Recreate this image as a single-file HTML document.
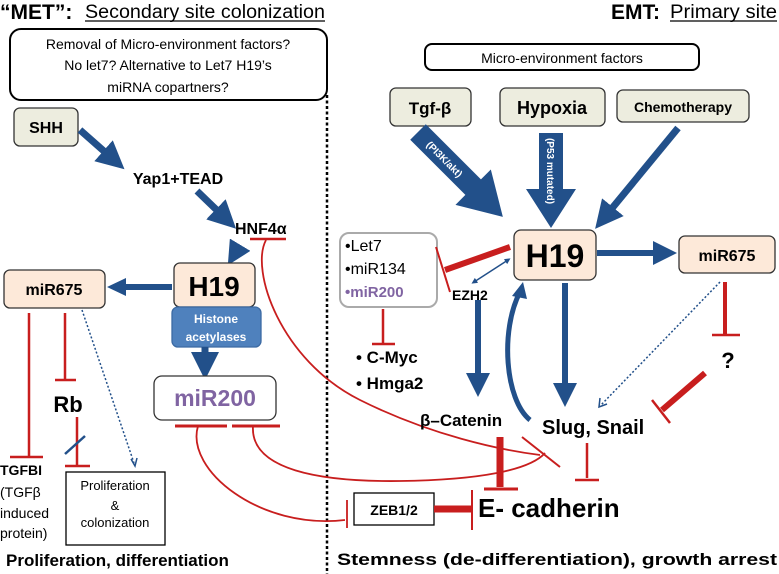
<!DOCTYPE html>
<html><head><meta charset="utf-8"><style>
body{margin:0;background:#fff}
svg{display:block;font-family:"Liberation Sans",Arial,sans-serif}
.b{font-weight:bold}
</style></head><body>
<svg width="779" height="574" viewBox="0 0 779 574" xmlns="http://www.w3.org/2000/svg">
<defs>
<marker id="ah" markerWidth="4" markerHeight="4" refX="2" refY="2" orient="auto" markerUnits="strokeWidth"><path d="M0,0 L4,2 L0,4 z" fill="#22508a"/></marker>
<marker id="ahd" markerWidth="4" markerHeight="4" refX="2" refY="2" orient="auto-start-reverse" markerUnits="strokeWidth"><path d="M0,0 L4,2 L0,4 z" fill="#22508a"/></marker>
</defs>
<!-- titles -->
<text x="0" y="19" class="b" font-size="21">“MET”:</text>
<text x="85" y="18" font-size="19" textLength="240" lengthAdjust="spacingAndGlyphs">Secondary site colonization</text>
<line x1="85" y1="21" x2="325" y2="21" stroke="#000" stroke-width="1.3"/>
<text x="611" y="19" class="b" font-size="21">EMT:</text>
<text x="670" y="18" font-size="19" textLength="107" lengthAdjust="spacingAndGlyphs">Primary site</text>
<line x1="670" y1="21" x2="777" y2="21" stroke="#000" stroke-width="1.3"/>
<!-- dotted divider -->
<line x1="327" y1="95" x2="327" y2="574" stroke="#000" stroke-width="2.5" stroke-dasharray="3,2.5"/>
<!-- left top box -->
<rect x="10" y="29" width="317" height="71" rx="11" fill="#fff" stroke="#000" stroke-width="2"/>
<text x="168" y="49" font-size="14" text-anchor="middle">Removal of Micro-environment  factors?</text>
<text x="168" y="70" font-size="14" text-anchor="middle">No let7? Alternative  to Let7 H19’s</text>
<text x="168" y="92" font-size="14" text-anchor="middle">miRNA copartners?</text>
<!-- SHH -->
<rect x="14" y="108" width="64" height="38" rx="6" fill="#ededdf" stroke="#333" stroke-width="1.3"/>
<text x="46" y="133" class="b" font-size="16" text-anchor="middle">SHH</text>
<line x1="80" y1="130" x2="114" y2="160" stroke="#22508a" stroke-width="7" marker-end="url(#ah)"/>
<text x="178" y="184" class="b" font-size="16" text-anchor="middle">Yap1+TEAD</text>
<line x1="197" y1="191" x2="226" y2="219" stroke="#22508a" stroke-width="7" marker-end="url(#ah)"/>
<text x="235" y="234" class="b" font-size="16">HNF4α</text>
<line x1="250" y1="239" x2="286" y2="239" stroke="#c81e1e" stroke-width="2.5"/>
<path d="M266,240 C250,270 280,360 360,400 C430,435 500,450 540,455" fill="none" stroke="#c81e1e" stroke-width="1.8"/>
<line x1="240" y1="245" x2="234" y2="255" stroke="#22508a" stroke-width="6" marker-end="url(#ah)"/>
<!-- H19 left -->
<rect x="174" y="263" width="81" height="44" rx="6" fill="#fde9d9" stroke="#333" stroke-width="1.3"/>
<text x="214" y="296" class="b" font-size="28" text-anchor="middle">H19</text>
<rect x="172" y="307" width="89" height="40" rx="6" fill="#4f81bd" stroke="#3c6aa3" stroke-width="1.3"/>
<text x="216" y="323" class="b" font-size="12" fill="#fff" text-anchor="middle">Histone</text>
<text x="216" y="341" class="b" font-size="12" fill="#fff" text-anchor="middle">acetylases</text>
<line x1="205" y1="347" x2="205" y2="366" stroke="#22508a" stroke-width="7" marker-end="url(#ah)"/>
<rect x="154" y="376" width="122" height="44" rx="8" fill="#fff" stroke="#333" stroke-width="1.3"/>
<text x="215" y="406" class="b" font-size="23" fill="#8064a2" text-anchor="middle">miR200</text>
<line x1="175" y1="426" x2="227" y2="426" stroke="#c81e1e" stroke-width="3"/>
<line x1="232" y1="426" x2="280" y2="426" stroke="#c81e1e" stroke-width="3"/>
<path d="M198,426 C185,470 260,530 345,520" fill="none" stroke="#c81e1e" stroke-width="1.8"/>
<line x1="347" y1="500" x2="347" y2="528" stroke="#c81e1e" stroke-width="1.8"/>
<path d="M253,426 C250,470 320,482 400,481 C480,480 530,470 545,453" fill="none" stroke="#c81e1e" stroke-width="1.8"/>
<!-- miR675 left -->
<path d="M172,284 L126,284 L126,278 L107,287 L126,296 L126,290 L172,290 z" fill="#22508a"/>
<rect x="4" y="270" width="101" height="38" rx="6" fill="#fde9d9" stroke="#333" stroke-width="1.3"/>
<text x="54" y="295" class="b" font-size="16" text-anchor="middle">miR675</text>
<line x1="29" y1="313" x2="29" y2="456" stroke="#c81e1e" stroke-width="2.5"/>
<line x1="10" y1="457" x2="43" y2="457" stroke="#c81e1e" stroke-width="2.5"/>
<line x1="65" y1="313" x2="65" y2="379" stroke="#c81e1e" stroke-width="2.5"/>
<line x1="55" y1="380" x2="76" y2="380" stroke="#c81e1e" stroke-width="2.5"/>
<text x="68" y="412" class="b" font-size="22" text-anchor="middle">Rb</text>
<line x1="77" y1="417" x2="77" y2="465" stroke="#c81e1e" stroke-width="2.5"/>
<line x1="65" y1="466" x2="90" y2="466" stroke="#c81e1e" stroke-width="2.5"/>
<line x1="65" y1="454" x2="85" y2="436" stroke="#22508a" stroke-width="2.5"/>
<path d="M82,310 L134,463" fill="none" stroke="#22508a" stroke-width="1.5" stroke-dasharray="2,2"/>
<path d="M131,459 L135,466 L137,458" fill="none" stroke="#22508a" stroke-width="1.5"/>
<text x="0" y="475" class="b" font-size="14">TGFBI</text>
<text x="0" y="497" font-size="14">(TGFβ</text>
<text x="0" y="518" font-size="14">induced</text>
<text x="0" y="538" font-size="14">protein)</text>
<rect x="66" y="472" width="99" height="73" fill="#fff" stroke="#000" stroke-width="1.3"/>
<text x="115" y="490" font-size="13" text-anchor="middle">Proliferation</text>
<text x="115" y="510" font-size="13" text-anchor="middle">&amp;</text>
<text x="115" y="527" font-size="13" text-anchor="middle">colonization</text>
<text x="6" y="566" class="b" font-size="17">Proliferation, differentiation</text>
<text x="337" y="565" class="b" font-size="17" textLength="440" lengthAdjust="spacingAndGlyphs">Stemness (de-differentiation), growth arrest</text>
<!-- right side -->
<rect x="425" y="44" width="274" height="26" rx="7" fill="#fff" stroke="#000" stroke-width="2"/>
<text x="562" y="63" font-size="14" text-anchor="middle">Micro-environment  factors</text>
<rect x="390" y="88" width="81" height="38" rx="6" fill="#ededdf" stroke="#333" stroke-width="1.3"/>
<text x="430" y="114" class="b" font-size="17" text-anchor="middle">Tgf-β</text>
<rect x="500" y="88" width="105" height="38" rx="6" fill="#ededdf" stroke="#333" stroke-width="1.3"/>
<text x="552" y="114" class="b" font-size="18" text-anchor="middle">Hypoxia</text>
<rect x="617" y="90" width="132" height="32" rx="6" fill="#ededdf" stroke="#333" stroke-width="1.3"/>
<text x="683" y="112" class="b" font-size="14" text-anchor="middle">Chemotherapy</text>
<g transform="translate(418,132) rotate(45)">
<path d="M0,-11 L78,-11 L78,-25 L120,0 L78,25 L78,11 L0,11 z" fill="#22508a"/>
<text x="38" y="4" class="b" font-size="10" fill="#fff" text-anchor="middle">(PI3K/akt)</text>
</g>
<g transform="translate(551,133) rotate(90)">
<path d="M0,-12 L56,-12 L56,-25 L95,0 L56,25 L56,12 L0,12 z" fill="#22508a"/>
<text x="38" y="4" class="b" font-size="10" fill="#fff" text-anchor="middle">(P53 mutated)</text>
</g>
<line x1="678" y1="128" x2="604" y2="218" stroke="#22508a" stroke-width="7" marker-end="url(#ah)"/>
<rect x="514" y="230" width="82" height="50" rx="7" fill="#fde9d9" stroke="#333" stroke-width="1.3"/>
<text x="555" y="267" class="b" font-size="32" text-anchor="middle">H19</text>
<line x1="597" y1="253" x2="665" y2="253" stroke="#22508a" stroke-width="6" marker-end="url(#ah)"/>
<rect x="679" y="236" width="96" height="37" rx="6" fill="#fde9d9" stroke="#333" stroke-width="1.3"/>
<text x="727" y="261" class="b" font-size="16" text-anchor="middle">miR675</text>
<line x1="725" y1="282" x2="725" y2="334" stroke="#c81e1e" stroke-width="4"/>
<line x1="712" y1="335" x2="740" y2="335" stroke="#c81e1e" stroke-width="2.5"/>
<text x="728" y="368" class="b" font-size="22" text-anchor="middle">?</text>
<line x1="705" y1="373" x2="662" y2="410" stroke="#c81e1e" stroke-width="6"/>
<line x1="652" y1="400" x2="670" y2="423" stroke="#c81e1e" stroke-width="2.5"/>
<path d="M720,282 L601,405" fill="none" stroke="#22508a" stroke-width="1.5" stroke-dasharray="2,2"/>
<path d="M600,398 L599,407 L607,404" fill="none" stroke="#22508a" stroke-width="1.5"/>
<rect x="340" y="233" width="97" height="74" rx="9" fill="#fff" stroke="#aaa" stroke-width="2"/>
<text x="345" y="251" font-size="16">•Let7</text>
<text x="345" y="274" font-size="16">•miR134</text>
<text x="345" y="297" class="b" font-size="15" fill="#8064a2">•miR200</text>
<line x1="510" y1="247" x2="445" y2="270" stroke="#c81e1e" stroke-width="6"/>
<line x1="436" y1="247" x2="450" y2="292" stroke="#c81e1e" stroke-width="2"/>
<line x1="383" y1="309" x2="383" y2="343" stroke="#c81e1e" stroke-width="2.5"/>
<line x1="372" y1="344" x2="395" y2="344" stroke="#c81e1e" stroke-width="2.5"/>
<text x="356" y="363" class="b" font-size="17">• C-Myc</text>
<text x="356" y="389" class="b" font-size="17">• Hmga2</text>
<text x="452" y="300" class="b" font-size="14">EZH2</text>
<line x1="474" y1="282" x2="508" y2="260" stroke="#22508a" stroke-width="1.5" marker-start="url(#ahd)" marker-end="url(#ahd)"/>
<line x1="478" y1="300" x2="478" y2="385" stroke="#22508a" stroke-width="6" marker-end="url(#ah)"/>
<line x1="565" y1="283" x2="565" y2="395" stroke="#22508a" stroke-width="6" marker-end="url(#ah)"/>
<path d="M530,420 C505,400 500,330 520,292" fill="none" stroke="#22508a" stroke-width="5"/>
<path d="M512,296 L523,282 L527,299 z" fill="#22508a"/>
<text x="420" y="426" class="b" font-size="17">β–Catenin</text>
<text x="542" y="434" class="b" font-size="20">Slug, Snail</text>
<line x1="500" y1="437" x2="500" y2="487" stroke="#c81e1e" stroke-width="7"/>
<line x1="484" y1="489" x2="518" y2="489" stroke="#c81e1e" stroke-width="3"/>
<line x1="587" y1="443" x2="587" y2="478" stroke="#c81e1e" stroke-width="2.5"/>
<line x1="575" y1="480" x2="599" y2="480" stroke="#c81e1e" stroke-width="2.5"/>
<line x1="522" y1="437" x2="560" y2="467" stroke="#c81e1e" stroke-width="2"/>
<rect x="354" y="493" width="80" height="32" fill="#fff" stroke="#000" stroke-width="1.3"/>
<text x="394" y="515" class="b" font-size="14" text-anchor="middle">ZEB1/2</text>
<line x1="434" y1="509" x2="471" y2="509" stroke="#c81e1e" stroke-width="7"/>
<line x1="472" y1="490" x2="472" y2="530" stroke="#c81e1e" stroke-width="2"/>
<text x="478" y="517" class="b" font-size="26">E- cadherin</text>
</svg>
</body></html>
